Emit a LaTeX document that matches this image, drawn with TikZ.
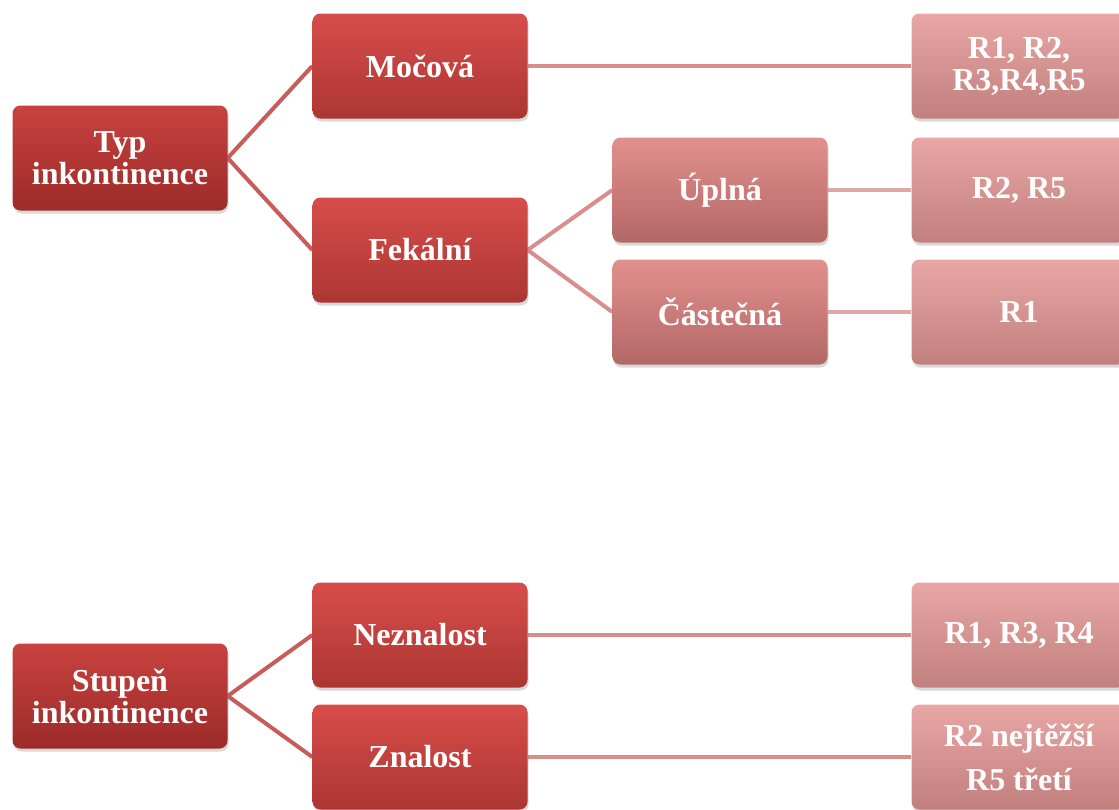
\documentclass[tikz,border=0pt]{standalone}
\usepackage{fontspec}
\setmainfont{Liberation Serif}
\usetikzlibrary{shadows,backgrounds}
\definecolor{rootTop}{HTML}{C8423F}
\definecolor{rootBot}{HTML}{9C2B29}
\definecolor{midTop}{HTML}{D74D4A}
\definecolor{midBot}{HTML}{AC3633}
\definecolor{subTop}{HTML}{E2908D}
\definecolor{subBot}{HTML}{B36866}
\definecolor{leafTop}{HTML}{E8A7A5}
\definecolor{leafBot}{HTML}{C17F7D}
\definecolor{linkDark}{HTML}{C95C5A}
\definecolor{linkMid}{HTML}{D88E8C}
\definecolor{linkLight}{HTML}{DFA6A4}
\tikzset{
  box/.style={rectangle, rounded corners=8pt, minimum width=215pt, minimum height=105pt,
    inner sep=2pt, align=center, text=white,
    font=\fontsize{32}{32}\selectfont\bfseries,
    drop shadow={opacity=0.3, shadow xshift=1pt, shadow yshift=-3pt}},
  rootbox/.style={box, top color=rootTop, bottom color=rootBot},
  midbox/.style={box, top color=midTop, bottom color=midBot},
  subbox/.style={box, top color=subTop, bottom color=subBot},
  leafbox/.style={box, top color=leafTop, bottom color=leafBot},
  link/.style={line width=4pt},
}
\begin{document}
\begin{tikzpicture}[x=1pt, y=-1pt]
\useasboundingbox (0,0) rectangle (1119,809);
\clip (0,0) rectangle (1119,809);

% type of incontinence
\node[rootbox] (typ) at (120,158) {Typ\\inkontinence};
\node[midbox] (moc) at (420,66) {Močová};
\node[midbox] (fek) at (420,250) {Fekální};
\node[subbox] (upl) at (720,190) {Úplná};
\node[subbox] (cas) at (720,312) {Částečná};
\node[leafbox] (rmoc) at (1019,66) {R1, R2,\\R3,R4,R5};
\node[leafbox] (rupl) at (1019,190) {R2, R5};
\node[leafbox] (rcas) at (1019,312) {R1};

% degree of incontinence
\node[rootbox] (stu) at (120,696) {Stupeň\\inkontinence};
\node[midbox] (nez) at (420,635) {Neznalost};
\node[midbox] (zna) at (420,757) {Znalost};
\node[leafbox] (rnez) at (1019,635) {R1, R3, R4};
\node[leafbox] (rzna) at (1019,757) {R2 nejtěžší\\[12pt]R5 třetí};

% connectors behind the boxes
\begin{pgfonlayer}{background}
  \draw[link, linkDark] (typ.east) -- (moc.west);
  \draw[link, linkDark] (typ.east) -- (fek.west);
  \draw[link, linkMid] (fek.east) -- (upl.west);
  \draw[link, linkMid] (fek.east) -- (cas.west);
  \draw[link, linkMid] (moc.east) -- (rmoc.west);
  \draw[link, linkLight] (upl.east) -- (rupl.west);
  \draw[link, linkLight] (cas.east) -- (rcas.west);
  \draw[link, linkDark] (stu.east) -- (nez.west);
  \draw[link, linkDark] (stu.east) -- (zna.west);
  \draw[link, linkMid] (nez.east) -- (rnez.west);
  \draw[link, linkMid] (zna.east) -- (rzna.west);
\end{pgfonlayer}
\end{tikzpicture}
\end{document}
